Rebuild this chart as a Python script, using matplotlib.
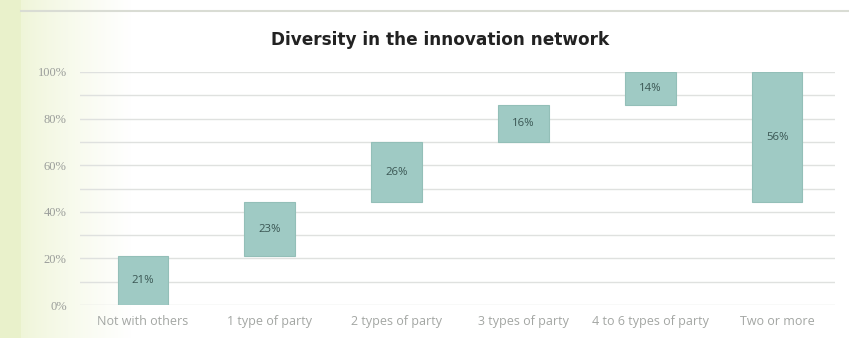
import numpy as np
import matplotlib
matplotlib.use("Agg")
import matplotlib.pyplot as plt
from matplotlib.colors import to_rgb

categories = ["Not with others", "1 type of party", "2 types of party",
              "3 types of party", "4 to 6 types of party", "Two or more"]
shares = [21, 23, 26, 16, 14, 56]
yticks = [0, 20, 40, 60, 80, 100]
ytick_labels = ["0%", "20%", "40%", "60%", "80%", "100%"]

W, H = 849, 338
fig = plt.figure(figsize=(W / 100, H / 100), dpi=100)
fig.patch.set_facecolor("white")

# Page background: solid green strip on the left, card fading from pale green to white
bg = fig.add_axes([0, 0, 1, 1], zorder=-10)
bg.set_xlim(0, W)
bg.set_ylim(H, 0)
bg.axis("off")
xs = np.arange(W)
strip = np.array(to_rgb("#e9f1cb"))
card0 = np.array(to_rgb("#eff5d8"))
white = np.array([1.0, 1.0, 1.0])
t = np.clip((xs - 21) / 110.0, 0, 1)[:, None] ** 0.8
row = card0 * (1 - t) + white * t
row[xs < 21] = strip
img = np.repeat(row[None, :, :], H, axis=0)
bg.imshow(img, extent=[0, W, H, 0], aspect="auto", interpolation="bilinear")
bg.plot([21, W], [11, 11], color="#d9dcd4", lw=1.5)

# Waterfall: each group sits on the running total; the last bar spans the top share
bottoms = []
running = 0
for v in shares[:-1]:
    bottoms.append(running)
    running += v
bottoms.append(100 - shares[-1])

ax = fig.add_axes([80 / W, (H - 305) / H, (835 - 80) / W, (305 - 72) / H])
ax.set_facecolor("none")
ax.set_xlim(-0.497, 5.457)
ax.set_ylim(0, 100)
for g in range(0, 101, 10):
    ax.axhline(g, color="#dfe1df", lw=1, zorder=0)

x = np.arange(len(categories))
ax.bar(x, shares, bottom=bottoms, width=0.40, color="#9fcac4",
       edgecolor="#93bfb8", linewidth=0.8, zorder=2)
for xi, b, v in zip(x, bottoms, shares):
    ax.text(xi, b + v / 2, f"{v}%", ha="center", va="center",
            fontsize=8.2, color="#3a5653", zorder=3, family="Open Sans")

ax.set_xticks(x)
ax.set_xticklabels(categories, fontsize=9, color="#a3a6a3",
                   family="Open Sans")
ax.set_yticks(yticks)
ax.set_yticklabels(ytick_labels, fontsize=9, color="#9b9e9b",
                   family="Liberation Serif")
ax.tick_params(axis="both", length=0)
ax.tick_params(axis="y", pad=9.5)
ax.tick_params(axis="x", pad=7)
for s in ax.spines.values():
    s.set_visible(False)

fig.text(440 / W, 1 - 40 / H, "Diversity in the innovation network",
         ha="center", va="center", fontsize=12.2, fontweight="bold",
         color="#222222", family="DejaVu Sans")

fig.savefig("out.png", dpi=100)
